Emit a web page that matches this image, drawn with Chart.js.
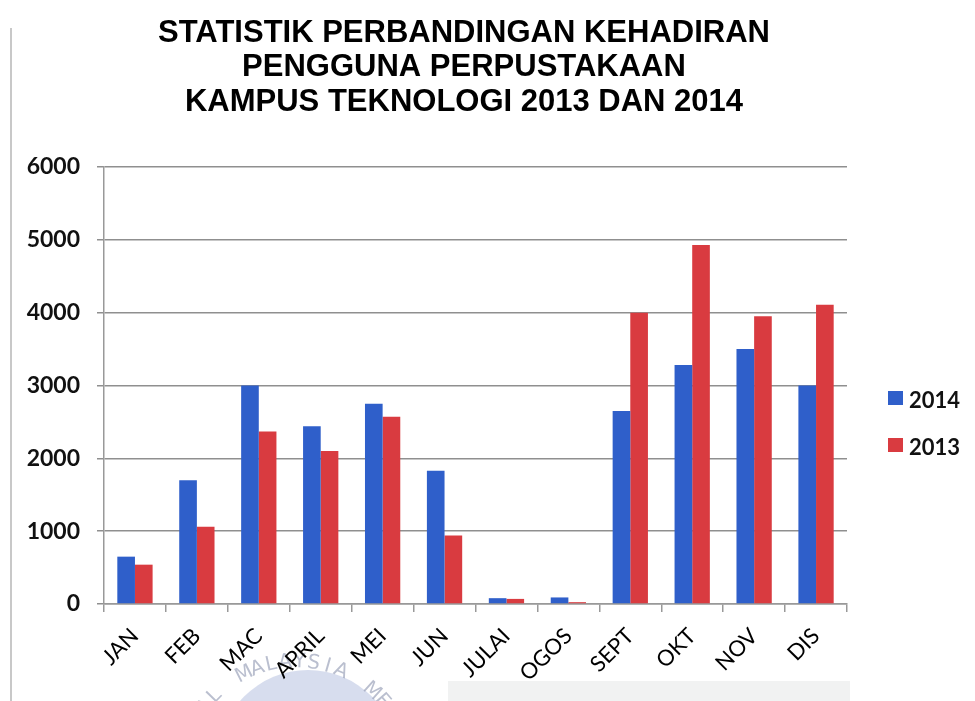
<!DOCTYPE html>
<html>
<head>
<meta charset="utf-8">
<script src="https://cdn.jsdelivr.net/npm/chart.js@4/dist/chart.umd.min.js"></script>
<style>
  html, body { margin: 0; padding: 0; background: #fff; }
  #wrap { position: relative; width: 975px; height: 701px; }
  #legend { position: absolute; left: 888px; top: 386px; font: bold 22px Lato, sans-serif; color: #111; }
  #legend div { height: 47px; display: flex; align-items: flex-start; }
  #legend span { display: inline-block; width: 15px; height: 14px; margin: 5px 6px 0 0; }
</style>
</head>
<body>
<div id="wrap">
  <canvas id="chart" width="975" height="701"></canvas>
  <div id="legend"></div>
</div>
<script>
const months = ["JAN", "FEB", "MAC", "APRIL", "MEI", "JUN", "JULAI", "OGOS", "SEPT", "OKT", "NOV", "DIS"];
const visits2014 = [650, 1700, 3000, 2440, 2750, 1830, 80, 90, 2650, 3280, 3500, 3000];
const visits2013 = [540, 1060, 2370, 2100, 2570, 940, 70, 25, 4000, 4930, 3950, 4110];
const titleLines = [
  "STATISTIK PERBANDINGAN KEHADIRAN",
  "PENGGUNA PERPUSTAKAAN",
  "KAMPUS TEKNOLOGI 2013 DAN 2014"
];

const blue = "#2f5fca";
const red = "#d93b40";

// scanned page bits: left border, library stamp, grey strip
const pageBits = {
  id: "pageBits",
  beforeDraw(chart) {
    const c = chart.ctx;
    c.save();
    c.fillStyle = "#fff";
    c.fillRect(0, 0, chart.width, chart.height);
    c.strokeStyle = "#c8c8c8";
    c.lineWidth = 2;
    c.beginPath();
    c.moveTo(11, 28);
    c.lineTo(11, 701);
    c.stroke();

    c.fillStyle = "#f1f2f2";
    c.fillRect(448, 681, 402, 20);

    c.fillStyle = "rgba(175, 188, 222, 0.5)";
    c.beginPath();
    c.arc(308, 760, 90, 0, Math.PI * 2);
    c.fill();

    const stamp = "AL MALAYSIA ME";
    c.fillStyle = "rgba(140, 148, 175, 0.6)";
    c.font = "20px 'DejaVu Sans'";
    c.textAlign = "center";
    c.textBaseline = "middle";
    const cx = 296, cy = 776, r = 114;
    let a = -0.92;
    for (const ch of stamp) {
      if (ch === " ") { a += 0.2; continue; }
      c.save();
      c.translate(cx + r * Math.sin(a), cy - r * Math.cos(a));
      c.rotate(a);
      c.fillText(ch, 0, 0);
      c.restore();
      a += 0.125;
    }
    c.restore();
  },
  // title is centred over the bars plus legend column
  afterDraw(chart) {
    const c = chart.ctx;
    c.save();
    c.fillStyle = "#000";
    c.font = "bold 31px 'Liberation Sans'";
    c.textAlign = "center";
    c.textBaseline = "middle";
    titleLines.forEach((line, i) => c.fillText(line, 464, 33 + i * 34.5));
    c.restore();
  }
};

const chart = new Chart(document.getElementById("chart"), {
  type: "bar",
  data: {
    labels: months,
    datasets: [
      { label: "2014", data: visits2014, backgroundColor: blue },
      { label: "2013", data: visits2013, backgroundColor: red }
    ]
  },
  options: {
    responsive: false,
    devicePixelRatio: 1,
    animation: false,
    layout: { padding: { left: 0, right: 128, top: 167, bottom: 0 } },
    datasets: { bar: { categoryPercentage: 0.57, barPercentage: 1.0 } },
    plugins: {
      legend: { display: false },
      tooltip: { enabled: false },
      title: { display: false }
    },
    scales: {
      x: {
        grid: { drawOnChartArea: false, drawTicks: true, tickLength: 8, color: "#999", lineWidth: 1.5 },
        border: { color: "#999", width: 1.5 },
        ticks: {
          minRotation: 45, maxRotation: 45, padding: 11,
          color: "#000",
          font: { family: "Lato", size: 22 }
        },
        afterFit(scale) { scale.height = 97; }
      },
      y: {
        min: 0, max: 6000,
        grid: { color: "#8f8f8f", lineWidth: 1.5, tickLength: 7 },
        border: { color: "#999", width: 1.5 },
        ticks: {
          stepSize: 1000, padding: 17,
          color: "#111",
          font: { family: "Lato", weight: "bold", size: 23 },
          callback: v => String(v)
        },
        afterFit(scale) { scale.width = 104; }
      }
    }
  },
  plugins: [pageBits]
});

const legend = document.getElementById("legend");
chart.data.datasets.forEach(ds => {
  const row = document.createElement("div");
  row.innerHTML = `<span style="background:${ds.backgroundColor}"></span>${ds.label}`;
  legend.appendChild(row);
});
</script>
</body>
</html>
